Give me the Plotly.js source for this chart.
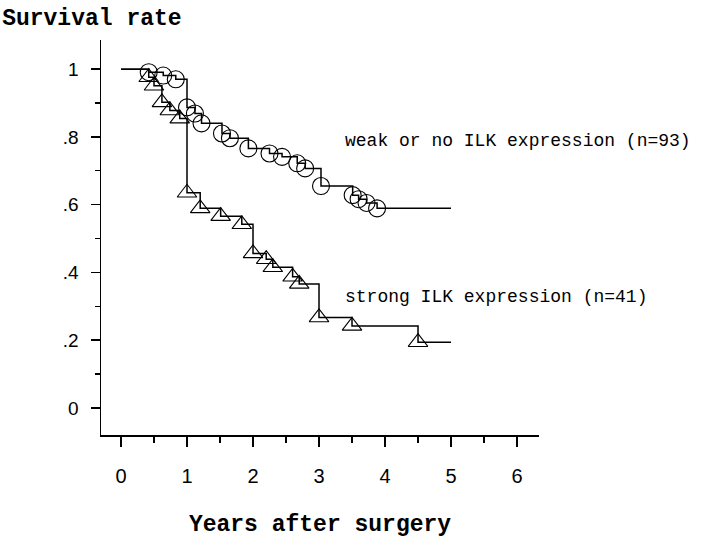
<!DOCTYPE html>
<html>
<head>
<meta charset="utf-8">
<script src="https://cdn.plot.ly/plotly-3.0.1.min.js"></script>
<style>html,body{margin:0;padding:0;background:#fff;}#chart{width:720px;height:540px;}</style>
</head>
<body>
<div id="chart"></div>
<script>
// Weak or no ILK expression (n=93): event times (years) and survival after each step
const weakTimes = [0.42, 0.64, 0.83, 1.00, 1.12, 1.22, 1.53, 1.65, 1.93, 2.25, 2.44, 2.67, 2.79, 3.03, 3.51, 3.60, 3.72, 3.88];
const weakSurv  = [0.991, 0.981, 0.970, 0.887, 0.869, 0.840, 0.810, 0.796, 0.766, 0.751, 0.741, 0.722, 0.707, 0.655, 0.628, 0.616, 0.605, 0.589];
// Strong ILK expression (n=41)
const strongTimes = [0.42, 0.50, 0.62, 0.74, 0.89, 1.00, 1.20, 1.51, 1.83, 2.00, 2.20, 2.30, 2.60, 2.70, 3.00, 3.50, 4.50];
const strongSurv  = [0.976, 0.951, 0.902, 0.878, 0.854, 0.635, 0.589, 0.566, 0.542, 0.456, 0.439, 0.415, 0.387, 0.366, 0.267, 0.242, 0.194];
const followUpEnd = 5.0;
const labelWeak = 'weak or no ILK expression (n=93)';
const labelStrong = 'strong ILK expression (n=41)';
const xTickVals = [0, 1, 2, 3, 4, 5, 6];
const yTickVals = [0, 0.2, 0.4, 0.6, 0.8, 1];
const yTickText = ['0', '.2', '.4', '.6', '.8', '1'];

function stepX(t) { return [0].concat(t, [followUpEnd]); }
function stepY(s) { return [1].concat(s, [s[s.length - 1]]); }

const lineStyle = {color: 'black', width: 1.5, shape: 'hv'};
const traces = [
  {x: stepX(weakTimes), y: stepY(weakSurv), mode: 'lines', line: lineStyle, name: labelWeak, hoverinfo: 'skip'},
  {x: stepX(strongTimes), y: stepY(strongSurv), mode: 'lines', line: lineStyle, name: labelStrong, hoverinfo: 'skip'},
  {x: weakTimes, y: weakSurv, mode: 'markers', name: labelWeak,
   marker: {symbol: 'circle-open', size: 17, color: 'black', line: {color: 'black', width: 1.1}}},
  {x: strongTimes, y: strongSurv, mode: 'markers', name: labelStrong,
   marker: {symbol: 'triangle-up-open', size: 17, color: 'black', line: {color: 'black', width: 1.1}}}
];

const monoFont = '"Liberation Mono", "Courier New", monospace';
const sansFont = '"Liberation Sans", Arial, sans-serif';

const layout = {
  width: 720, height: 540,
  margin: {l: 101, r: 181, t: 40, b: 105},
  paper_bgcolor: 'white', plot_bgcolor: 'white',
  showlegend: false,
  title: {text: '<b>Survival rate</b>', font: {family: monoFont, size: 23, color: 'black'},
          x: 0.003, xref: 'container', xanchor: 'left', y: 0.984, yref: 'container', yanchor: 'top'},
  xaxis: {
    range: [-0.303, 6.333], showgrid: false, zeroline: false,
    showline: true, linecolor: 'black', linewidth: 1.5,
    tickmode: 'array', tickvals: xTickVals, ticks: 'outside', ticklen: 10, tickwidth: 1.3, tickcolor: 'black',
    minor: {dtick: 0.5, tick0: 0, ticks: 'outside', ticklen: 6, tickwidth: 1.3, tickcolor: 'black', showgrid: false},
    tickfont: {family: sansFont, size: 20, color: 'black'},
    ticklabelstandoff: 12,
    title: {text: '<b>Years after surgery</b>', font: {family: monoFont, size: 23, color: 'black'}, standoff: 29}
  },
  yaxis: {
    range: [-0.08, 1.086], showgrid: false, zeroline: false,
    showline: true, linecolor: 'black', linewidth: 1.5,
    tickmode: 'array', tickvals: yTickVals, ticktext: yTickText,
    ticks: 'outside', ticklen: 9, tickwidth: 1.3, tickcolor: 'black',
    minor: {dtick: 0.1, tick0: 0, ticks: 'outside', ticklen: 5, tickwidth: 1.3, tickcolor: 'black', showgrid: false},
    tickfont: {family: sansFont, size: 19, color: 'black'},
    ticklabelstandoff: 8
  },
  annotations: [
    {x: 3.364, y: 0.788, xref: 'x', yref: 'y', text: labelWeak, showarrow: false,
     xanchor: 'left', yanchor: 'middle', font: {family: monoFont, size: 18, color: 'black'}},
    {x: 3.364, y: 0.327, xref: 'x', yref: 'y', text: labelStrong, showarrow: false,
     xanchor: 'left', yanchor: 'middle', font: {family: monoFont, size: 18, color: 'black'}}
  ]
};

Plotly.newPlot('chart', traces, layout, {staticPlot: true, displayModeBar: false});
</script>
</body>
</html>
